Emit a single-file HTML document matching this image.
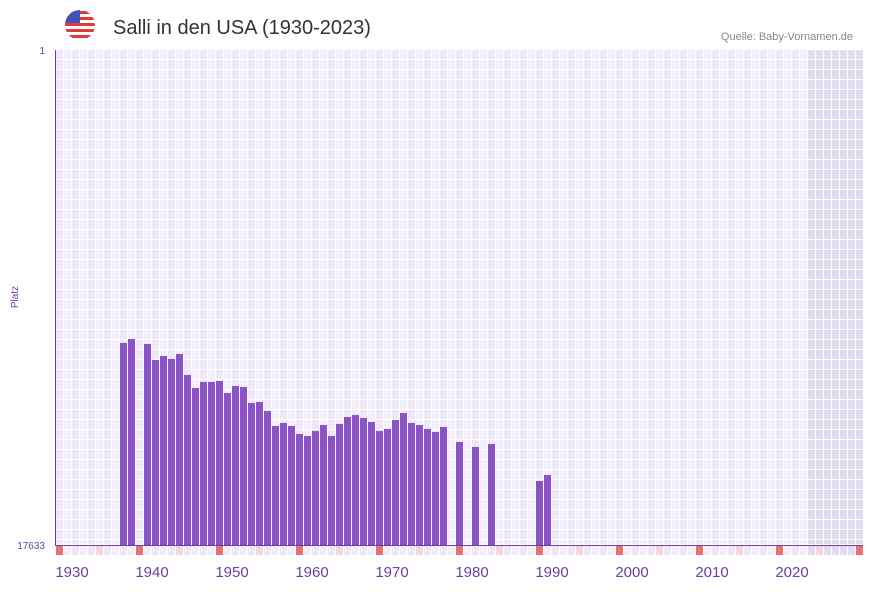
<!DOCTYPE html>
<html><head><meta charset="utf-8"><style>
body{margin:0;width:873px;height:587px;background:#fff;font-family:"Liberation Sans",sans-serif;overflow:hidden}
</style></head><body>
<svg id="c" width="873" height="587" xmlns="http://www.w3.org/2000/svg">
<g>
<clipPath id="fc"><circle cx="80" cy="25" r="15"/></clipPath>
<g clip-path="url(#fc)">
<rect x="65" y="10" width="30" height="30" fill="#fff"/>
<rect x="65" y="11" width="30" height="3" fill="#e53935"/><rect x="65" y="17" width="30" height="3" fill="#e53935"/>
<rect x="65" y="23" width="30" height="3" fill="#e53935"/><rect x="65" y="29" width="30" height="3" fill="#e53935"/>
<rect x="65" y="35" width="30" height="3" fill="#e53935"/>
<rect x="65" y="10" width="15" height="13" fill="#3f51b5"/>
</g></g>
<text x="113" y="34" font-size="20" fill="#333">Salli in den USA (1930-2023)</text>
<text x="853" y="40" font-size="11" fill="#888" text-anchor="end">Quelle: Baby-Vornamen.de</text>
<text x="45" y="54" font-size="10" fill="#6a3ea1" text-anchor="end">1</text>
<text x="45" y="549" font-size="10" fill="#6a3ea1" text-anchor="end">17633</text>
<text x="18" y="297" font-size="10" fill="#6a3ea1" text-anchor="middle" transform="rotate(-90 18 297)">Platz</text>
<g id="grid"></g><g id="bars"></g><g id="marks"></g><g id="xt"></g>
<line x1="55.5" y1="50" x2="55.5" y2="546" stroke="#6a3ea1" stroke-width="1"/>
<line x1="55" y1="545.5" x2="863" y2="545.5" stroke="#6a3ea1" stroke-width="1"/>
</svg>
<script>
const years=[1936,1937,1939,1940,1941,1942,1943,1944,1945,1946,1947,1948,1949,1950,1951,1952,1953,1954,1955,1956,1957,1958,1959,1960,1961,1962,1963,1964,1965,1966,1967,1968,1969,1970,1971,1972,1973,1974,1975,1976,1978,1980,1982,1988,1989];
const ranks=[10438,10295,10473,11043,10900,11007,10829,11577,12040,11826,11826,11791,12218,11969,12004,12574,12539,12859,13393,13287,13393,13678,13750,13571,13358,13750,13322,13073,13002,13108,13251,13571,13500,13180,12930,13287,13358,13500,13607,13429,13963,14141,14035,15353,15139];
const tickYears=[1930,1940,1950,1960,1970,1980,1990,2000,2010,2020];
const NS="http://www.w3.org/2000/svg";
const x0=56,y0=50,y1=545,Y0=1928,W=8,maxR=17633;
const xs=y=>x0+(y-Y0)*W;
const ys=r=>y0+(r-1)/(maxR-1)*(y1-y0);
function mk(t,a,p){const e=document.createElementNS(NS,t);for(const k in a)e.setAttribute(k,a[k]);p.appendChild(e);return e;}
const g=document.getElementById('grid');
for(let i=0;i<101;i++){const yr=Y0+i;const shade=yr>=2022;
 for(let r=0;r<50;r++){const top=y0+r*10;const h=Math.min(9,y1-top-1);if(h<=0)continue;
  const c=mk('rect',{x:xs(yr),y:top,width:7,height:h,fill:shade?'#e2ddee':(i%2?'#f2eefa':'#ede7f7')},g);}
}
const b=document.getElementById('bars');
years.forEach((yr,i)=>{const t=ys(ranks[i]);
 const e=mk('rect',{x:xs(yr),y:t,width:7,height:y1-t,fill:'#8c53c6'},b);
 
 });
const m=document.getElementById('marks');
for(let i=0;i<101;i++){const yr=Y0+i;let f=(yr>=2022)?'#e2ddee':(i%2?'#f2eefa':'#ede7f7');
 if((yr-Y0)%10==0)f='#e57373';else if((yr-Y0)%10==5)f='#f6d6de';
 const e=mk('rect',{x:xs(yr),y:546,width:7,height:9,fill:f},m);
 
 }
const xt=document.getElementById('xt');
tickYears.forEach(yr=>{const e=mk('text',{x:xs(yr),y:577,'font-size':15,fill:'#6a3ea1','text-anchor':'middle'},xt);e.textContent=yr;
 
 });
</script>
</body></html>
